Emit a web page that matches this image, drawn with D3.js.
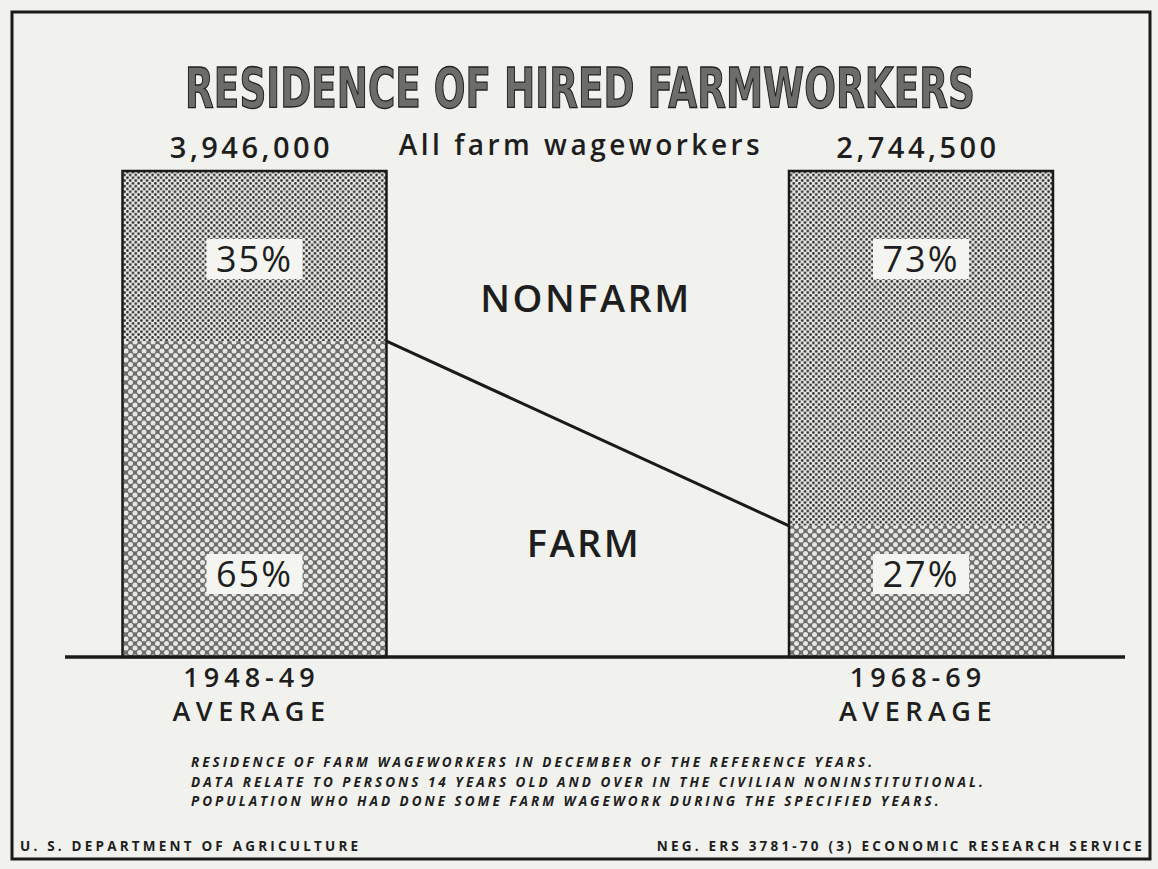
<!DOCTYPE html>
<html>
<head>
<meta charset="utf-8">
<script src="https://cdn.jsdelivr.net/npm/d3@7"></script>
<style>
  body { margin: 0; background: #f1f1ed; }
  svg { display: block; }
  text { font-family: "Open Sans", "DejaVu Sans", sans-serif; fill: #1e1e1e; }
</style>
</head>
<body>
<div id="chart"></div>
<script>
// dados do gráfico
const periods = ["1948-49", "1968-69"];
const totals = ["3,946,000", "2,744,500"];
const farmShare = [65, 27];
const nonfarmShare = [35, 73];
const notes = [
  "RESIDENCE OF FARM WAGEWORKERS IN DECEMBER OF THE REFERENCE YEARS.",
  "DATA RELATE TO PERSONS 14 YEARS OLD AND OVER IN THE CIVILIAN NONINSTITUTIONAL.",
  "POPULATION WHO HAD DONE SOME FARM WAGEWORK DURING THE SPECIFIED YEARS."
];

const W = 1158, H = 869;
const svg = d3.select("#chart").append("svg")
  .attr("width", W).attr("height", H);

// padrões (retícula)
const defs = svg.append("defs");
const dots = defs.append("pattern").attr("id", "dots")
  .attr("patternUnits", "userSpaceOnUse").attr("width", 5.6).attr("height", 5.6);
dots.append("rect").attr("width", 5.6).attr("height", 5.6).attr("fill", "#e6e6e2");
dots.append("circle").attr("cx", 1.4).attr("cy", 1.4).attr("r", 1.3).attr("fill", "#2b2b2b");
dots.append("circle").attr("cx", 4.2).attr("cy", 4.2).attr("r", 1.3).attr("fill", "#2b2b2b");

const hatch = defs.append("pattern").attr("id", "hatch")
  .attr("patternUnits", "userSpaceOnUse").attr("width", 9).attr("height", 9);
hatch.append("rect").attr("width", 9).attr("height", 9).attr("fill", "#6e6e6c");
[[0, 0], [9, 0], [0, 9], [9, 9], [4.5, 4.5]].forEach(p => {
  hatch.append("circle").attr("cx", p[0]).attr("cy", p[1]).attr("r", 2.5).attr("fill", "#e6e6e2");
});

// moldura
svg.append("rect")
  .attr("x", 12).attr("y", 12).attr("width", W - 20).attr("height", H - 22)
  .attr("fill", "none").attr("stroke", "#1a1a1a").attr("stroke-width", 3);

// escalas
const x = d3.scalePoint().domain(periods).range([254.5, 921]);
const barW = 264;
const y = d3.scaleLinear().domain([0, 100]).range([657, 171]);

const rows = periods.map((p, i) => ({
  period: p, total: totals[i], farm: farmShare[i], nonfarm: nonfarmShare[i]
}));

// título (ajusta a largura com escala horizontal)
const title = svg.append("g");
const titleText = title.append("text")
  .attr("x", 0).attr("y", 0)
  .attr("text-anchor", "middle")
  .style("font-family", "'DejaVu Sans Condensed', 'DejaVu Sans', sans-serif")
  .style("font-weight", "bold")
  .style("font-size", "56px")
  .style("fill", "#6c6c6a")
  .style("stroke", "#222")
  .style("stroke-width", 1.3)
  .text("RESIDENCE OF HIRED FARMWORKERS");
const tw = titleText.node().getComputedTextLength();
title.attr("transform", `translate(580,107) scale(${790 / tw},1)`);

svg.append("text")
  .attr("x", 581).attr("y", 155)
  .attr("text-anchor", "middle")
  .style("font-size", "28px").style("font-weight", 600)
  .style("letter-spacing", "3.5px")
  .text("All farm wageworkers");

// barras
const bars = svg.selectAll(".bar").data(rows).enter().append("g").attr("class", "bar");

bars.append("rect")
  .attr("x", d => x(d.period) - barW / 2).attr("width", barW)
  .attr("y", d => y(100)).attr("height", d => y(100 - d.nonfarm) - y(100))
  .attr("fill", "url(#dots)");

bars.append("rect")
  .attr("x", d => x(d.period) - barW / 2).attr("width", barW)
  .attr("y", d => y(d.farm)).attr("height", d => y(0) - y(d.farm))
  .attr("fill", "url(#hatch)");

bars.append("rect")
  .attr("x", d => x(d.period) - barW / 2).attr("width", barW)
  .attr("y", y(100)).attr("height", y(0) - y(100))
  .attr("fill", "none").attr("stroke", "#1a1a1a").attr("stroke-width", 2.5);

// totais
bars.append("text")
  .attr("x", d => x(d.period) - 3).attr("y", 158)
  .attr("text-anchor", "middle")
  .style("font-size", "29px").style("font-weight", 600)
  .style("letter-spacing", "3.5px")
  .text(d => d.total);

// rótulos de porcentagem
function pctLabel(g, val, yc) {
  const w = 96, h = 40;
  g.append("rect")
    .attr("x", d => x(d.period) - w / 2).attr("y", d => yc(d) - h / 2)
    .attr("width", w).attr("height", h)
    .attr("fill", "#f4f4f0");
  g.append("text")
    .attr("x", d => x(d.period)).attr("y", d => yc(d) + 13)
    .attr("text-anchor", "middle")
    .style("font-size", "36px")
    .style("letter-spacing", "2px")
    .text(d => val(d) + "%");
}
pctLabel(bars, d => d.nonfarm, d => 259);
pctLabel(bars, d => d.farm, d => 574);

// linha ligando as divisões
const line = d3.line().x(d => d[0]).y(d => d[1]);
svg.append("path")
  .attr("d", line([[x(periods[0]) + barW / 2, y(farmShare[0])], [x(periods[1]) - barW / 2, y(farmShare[1])]]))
  .attr("stroke", "#1a1a1a").attr("stroke-width", 3).attr("fill", "none");

// linha de base
svg.append("line")
  .attr("x1", 65).attr("x2", 1125).attr("y1", y(0)).attr("y2", y(0))
  .attr("stroke", "#1a1a1a").attr("stroke-width", 3.5);

// categorias
svg.append("text").attr("x", 586).attr("y", 312).attr("text-anchor", "middle")
  .style("font-size", "38px").style("font-weight", 600).style("letter-spacing", "2.5px")
  .text("NONFARM");
svg.append("text").attr("x", 584).attr("y", 557).attr("text-anchor", "middle")
  .style("font-size", "38px").style("font-weight", 600).style("letter-spacing", "2.5px")
  .text("FARM");

// períodos
bars.append("text")
  .attr("x", d => x(d.period) - 3).attr("y", 687)
  .attr("text-anchor", "middle")
  .style("font-size", "27px").style("font-weight", 600).style("letter-spacing", "5px")
  .text(d => d.period);
bars.append("text")
  .attr("x", d => x(d.period) - 3).attr("y", 721)
  .attr("text-anchor", "middle")
  .style("font-size", "27px").style("font-weight", 600).style("letter-spacing", "5.5px")
  .text("AVERAGE");

// notas
svg.selectAll(".note").data(notes).enter().append("text")
  .attr("class", "note")
  .attr("x", 191).attr("y", (d, i) => 767 + i * 19.5)
  .style("font-size", "13.5px").style("font-style", "italic").style("font-weight", "bold")
  .style("letter-spacing", "3px")
  .text(d => d);

// rodapé
svg.append("text").attr("x", 20).attr("y", 851)
  .style("font-size", "13.5px").style("font-weight", "bold").style("letter-spacing", "3.2px")
  .text("U. S. DEPARTMENT OF AGRICULTURE");
svg.append("text").attr("x", 1145).attr("y", 851).attr("text-anchor", "end")
  .style("font-size", "13.5px").style("font-weight", "bold").style("letter-spacing", "3.2px")
  .text("NEG. ERS 3781-70 (3)  ECONOMIC RESEARCH SERVICE");
</script>
</body>
</html>
